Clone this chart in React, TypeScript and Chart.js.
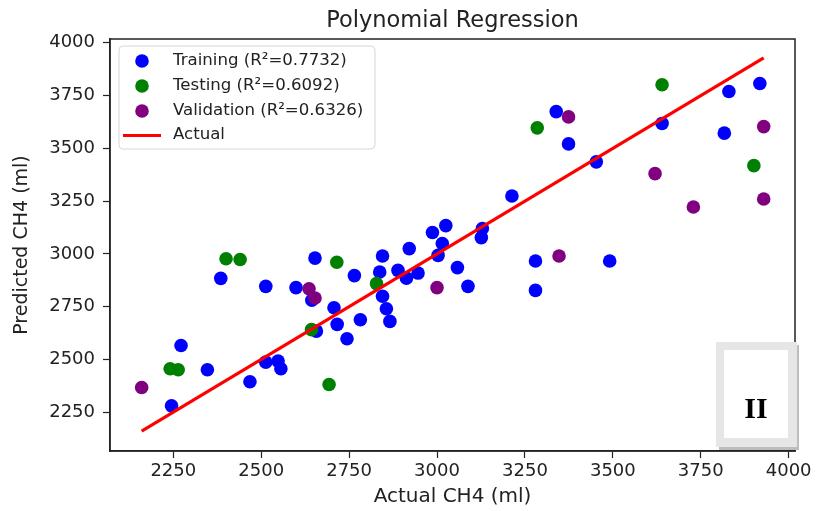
import React, { useEffect, useRef } from "react";
import { Chart, registerables } from "chart.js";

Chart.register(...registerables);

const TITLE = "Polynomial Regression";
const X_LABEL = "Actual CH4 (ml)";
const Y_LABEL = "Predicted CH4 (ml)";
const PANEL_MARK = "II";

const X_TICKS = [2250, 2500, 2750, 3000, 3250, 3500, 3750, 4000];
const Y_TICKS = [2250, 2500, 2750, 3000, 3250, 3500, 3750, 4000];
const X_LIMITS = [2070, 4018];
const Y_LIMITS = [2066, 4018];

const SERIES_NAMES = [
  "Training (R\u00b2=0.7732)",
  "Testing (R\u00b2=0.6092)",
  "Validation (R\u00b2=0.6326)",
  "Actual",
];
const SERIES_COLORS = ["#0000ff", "#008000", "#800080", "#ff0000"];

const TRAIN_ACTUAL = [
  2385, 2513, 2599, 2653, 2765, 2644, 2707, 2845, 2837, 2845, 2889, 2913, 2946,
  2921, 2987, 3025, 3015, 3003, 3058, 3088, 3129, 3126, 3213, 3280, 3280, 3491,
  2856, 2866, 2782, 2716, 2744, 2272, 2245, 2347, 2468, 2513, 2548, 2556, 2657,
  3339, 3374, 3453, 3640, 3830, 3817, 3918,
];
const TRAIN_PRED = [
  2884, 2846, 2840, 2980, 2897, 2780, 2745, 2990, 2914, 2799, 2922, 2885, 2909,
  3025, 3101, 3134, 3049, 2993, 2935, 2846, 3120, 3077, 3274, 2966, 2827, 2966,
  2740, 2680, 2688, 2666, 2598, 2566, 2280, 2451, 2394, 2487, 2492, 2456, 2634,
  3674, 3521, 3436, 3618, 3769, 3572, 3807,
];
const TEST_ACTUAL = [2400, 2440, 2715, 2828, 2241, 2264, 2693, 2643, 3285, 3640, 3901];
const TEST_PRED = [2977, 2973, 2960, 2859, 2456, 2451, 2381, 2641, 3597, 3801, 3418];
const VAL_ACTUAL = [2636, 2653, 3000, 3347, 2160, 3374, 3620, 3729, 3929, 3929];
const VAL_PRED = [2835, 2791, 2840, 2990, 2367, 3649, 3380, 3222, 3603, 3260];

const ALL_ACTUAL = [...TRAIN_ACTUAL, ...TEST_ACTUAL, ...VAL_ACTUAL];
const ACT_MIN = Math.min(...ALL_ACTUAL);
const ACT_MAX = Math.max(...ALL_ACTUAL);

const FONT = "'DejaVu Sans', sans-serif";
const TEXT_COLOR = "#222";

const pts = (xs: number[], ys: number[]) => xs.map((x, i) => ({ x, y: ys[i] }));

const decorPlugin = {
  id: "decor",
  afterDatasetsDraw(chart: any) {
    const ctx = chart.ctx as CanvasRenderingContext2D;
    const a = chart.chartArea;
    ctx.save();
    // full frame (spines)
    ctx.strokeStyle = TEXT_COLOR;
    ctx.lineWidth = 1.5;
    ctx.strokeRect(a.left, a.top, a.right - a.left, a.bottom - a.top);

    // legend
    const lx = 119, ly = 46, lw = 256, lh = 103, r = 4;
    ctx.beginPath();
    ctx.moveTo(lx + r, ly);
    ctx.lineTo(lx + lw - r, ly);
    ctx.arcTo(lx + lw, ly, lx + lw, ly + r, r);
    ctx.lineTo(lx + lw, ly + lh - r);
    ctx.arcTo(lx + lw, ly + lh, lx + lw - r, ly + lh, r);
    ctx.lineTo(lx + r, ly + lh);
    ctx.arcTo(lx, ly + lh, lx, ly + lh - r, r);
    ctx.lineTo(lx, ly + r);
    ctx.arcTo(lx, ly, lx + r, ly, r);
    ctx.closePath();
    ctx.fillStyle = "rgba(255,255,255,0.8)";
    ctx.fill();
    ctx.strokeStyle = "#d6d6d6";
    ctx.lineWidth = 1;
    ctx.stroke();

    const rows = [61, 86, 111, 135.5];
    ctx.font = `16.6px ${FONT}`;
    ctx.textBaseline = "middle";
    ctx.textAlign = "left";
    SERIES_NAMES.forEach((name, i) => {
      const y = rows[i];
      if (i < 3) {
        ctx.beginPath();
        ctx.arc(142, y, 6.8, 0, Math.PI * 2);
        ctx.fillStyle = SERIES_COLORS[i];
        ctx.fill();
      } else {
        ctx.beginPath();
        ctx.moveTo(123, y);
        ctx.lineTo(161, y);
        ctx.strokeStyle = SERIES_COLORS[i];
        ctx.lineWidth = 3;
        ctx.stroke();
      }
      ctx.fillStyle = TEXT_COLOR;
      ctx.fillText(name, 173, y - 0.5);
    });
    ctx.restore();
  },
  afterDraw(chart: any) {
    const ctx = chart.ctx as CanvasRenderingContext2D;
    const a = chart.chartArea;
    ctx.save();
    // title
    ctx.font = `22.5px ${FONT}`;
    ctx.fillStyle = TEXT_COLOR;
    ctx.textAlign = "center";
    ctx.textBaseline = "alphabetic";
    ctx.fillText(TITLE, (a.left + a.right) / 2, 26.5);

    // panel mark box
    ctx.fillStyle = "#bdbdbd";
    ctx.fillRect(719, 345, 80, 105);
    ctx.fillStyle = "#e6e6e6";
    ctx.fillRect(716, 342, 81, 105);
    ctx.fillStyle = "#ffffff";
    ctx.fillRect(724, 350, 64, 88);
    ctx.fillStyle = "#000";
    ctx.font = `bold 30px 'Liberation Serif', 'DejaVu Serif', serif`;
    ctx.textAlign = "center";
    ctx.textBaseline = "middle";
    ctx.fillText(PANEL_MARK, 756, 410);
    ctx.restore();
  },
};

export default function App() {
  const ref = useRef<HTMLCanvasElement>(null);
  useEffect(() => {
    if (!ref.current) return;
    const tickFont = { family: FONT, size: 18 };
    const chart = new Chart(ref.current, {
      type: "scatter",
      data: {
        datasets: [
          {
            label: SERIES_NAMES[0],
            data: pts(TRAIN_ACTUAL, TRAIN_PRED),
            backgroundColor: SERIES_COLORS[0],
            borderWidth: 0,
            pointRadius: 6.8,
            order: 3,
          },
          {
            label: SERIES_NAMES[1],
            data: pts(TEST_ACTUAL, TEST_PRED),
            backgroundColor: SERIES_COLORS[1],
            borderWidth: 0,
            pointRadius: 6.8,
            order: 2,
          },
          {
            label: SERIES_NAMES[2],
            data: pts(VAL_ACTUAL, VAL_PRED),
            backgroundColor: SERIES_COLORS[2],
            borderWidth: 0,
            pointRadius: 6.8,
            order: 1,
          },
          {
            type: "line",
            label: SERIES_NAMES[3],
            data: [
              { x: ACT_MIN, y: ACT_MIN },
              { x: ACT_MAX, y: ACT_MAX },
            ],
            borderColor: SERIES_COLORS[3],
            borderWidth: 3.2,
            pointRadius: 0,
            showLine: true,
            fill: false,
            order: 0,
          } as any,
        ],
      },
      options: {
        animation: false,
        responsive: false,
        events: [],
        layout: { padding: { top: 39, right: 31, bottom: 0, left: 0 } },
        plugins: {
          legend: { display: false },
          title: { display: false },
          tooltip: { enabled: false },
        },
        scales: {
          x: {
            type: "linear",
            min: X_LIMITS[0],
            max: X_LIMITS[1],
            afterBuildTicks: (s: any) => {
              s.ticks = X_TICKS.map((v) => ({ value: v }));
            },
            afterFit: (s: any) => {
              s.height = 60;
            },
            grid: {
              display: true,
              drawOnChartArea: false,
              drawTicks: true,
              tickLength: 7,
              tickColor: TEXT_COLOR,
              tickWidth: 1.2,
            },
            border: { display: true, color: TEXT_COLOR, width: 1.5 },
            ticks: {
              font: tickFont,
              color: TEXT_COLOR,
              padding: 3,
              maxRotation: 0,
              autoSkip: false,
              callback: (v: any) => String(v),
            },
            title: {
              display: true,
              text: X_LABEL,
              font: { family: FONT, size: 20 },
              color: TEXT_COLOR,
              padding: { top: 0, bottom: 2 },
            },
          },
          y: {
            type: "linear",
            min: Y_LIMITS[0],
            max: Y_LIMITS[1],
            afterBuildTicks: (s: any) => {
              s.ticks = Y_TICKS.map((v) => ({ value: v }));
            },
            afterFit: (s: any) => {
              s.width = 110;
            },
            grid: {
              display: true,
              drawOnChartArea: false,
              drawTicks: true,
              tickLength: 7,
              tickColor: TEXT_COLOR,
              tickWidth: 1.2,
            },
            border: { display: true, color: TEXT_COLOR, width: 1.5 },
            ticks: {
              font: tickFont,
              color: TEXT_COLOR,
              padding: 8,
              autoSkip: false,
              callback: (v: any) => String(v),
            },
            title: {
              display: true,
              text: Y_LABEL,
              font: { family: FONT, size: 19 },
              color: TEXT_COLOR,
              padding: { top: 10.6, bottom: 0 },
            },
          },
        },
      },
      plugins: [decorPlugin],
    });
    return () => chart.destroy();
  }, []);
  return (
    <div style={{ position: "absolute", left: 0, top: 0, width: 826, height: 511, background: "#fff" }}>
      <canvas ref={ref} width={826} height={511} style={{ display: "block" }} />
    </div>
  );
}
